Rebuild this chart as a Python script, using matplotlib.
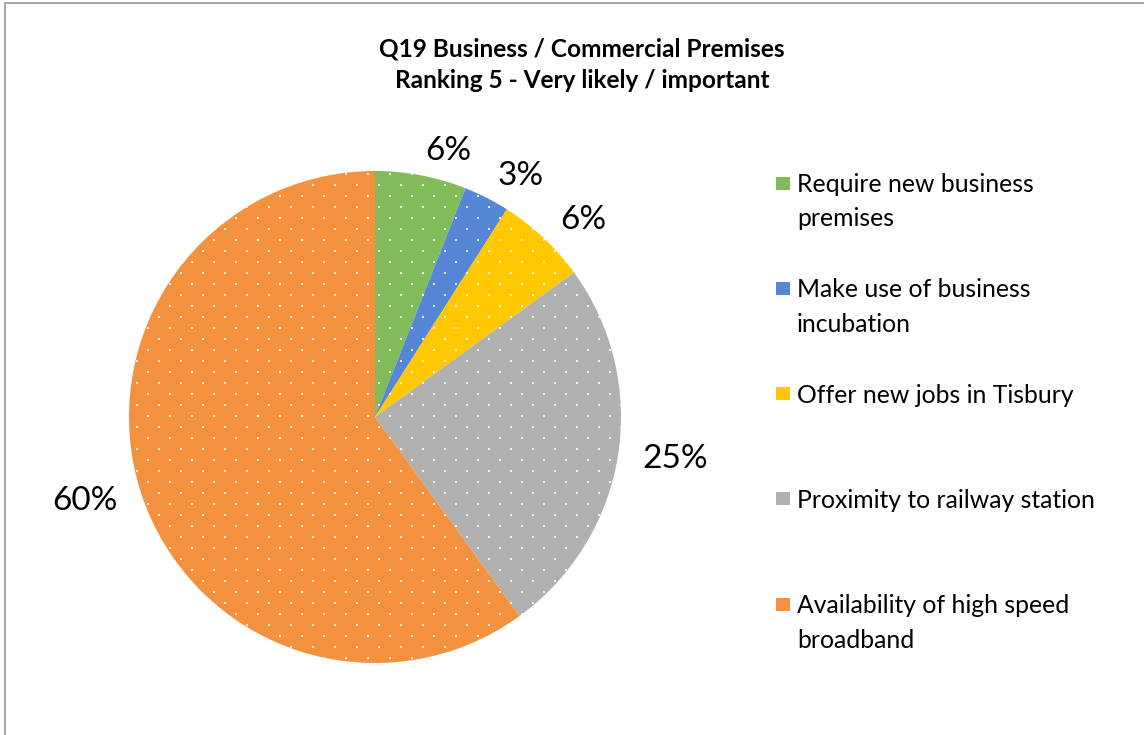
import numpy as np
import matplotlib.pyplot as plt
from matplotlib.patches import Rectangle

plt.rcParams['font.family'] = ['Lato', 'DejaVu Sans']

categories = ['Require new business\npremises',
              'Make use of business\nincubation',
              'Offer new jobs in Tisbury',
              'Proximity to railway station',
              'Availability of high speed\nbroadband']
values = [6, 3, 6, 25, 60]
colors = ['#82BB5A', '#5587D6', '#FFC800', '#B0B0B0', '#F4913F']
title = 'Q19 Business / Commercial Premises\nRanking 5 - Very likely / important'

W, H = 1144, 735
fig = plt.figure(figsize=(W / 100, H / 100), dpi=100)

# light grey frame (only top and left edges fall inside the image)
fig.add_artist(Rectangle((4.5 / W, -0.1), 1.2, 1.1 - 3.5 / H, transform=fig.transFigure,
                         fill=False, edgecolor='#A6A6A6', lw=1.4))

fig.text(582 / W, 1 - 37 / H, title, ha='center', va='top', fontsize=17.6,
         fontweight='bold', linespacing=1.45)

# pie: centre at (375, 417) px from top, radius 246 px
R = 246
half = 300
ax = fig.add_axes([(375 - half) / W, (H - 417 - half) / H, 2 * half / W, 2 * half / H])
wedges, texts = ax.pie(values, colors=colors, startangle=90, counterclock=False,
                       labels=[f'{v}%' for v in values], labeldistance=1.1,
                       textprops=dict(fontsize=24), wedgeprops=dict(linewidth=0))
lim = half / R
ax.set_xlim(-lim, lim)
ax.set_ylim(-lim, lim)
ax.set_axis_off()

# dotted pattern fill: staggered lattice of small white squares (in inches)
gx, gy = [], []
for j, yy in enumerate(np.arange(0.0, H / 100 + 0.11, 0.11)):
    xs = np.arange(0.05 + (0.11 if j % 2 else 0.0), W / 100 + 0.22, 0.22)
    gx.extend(xs)
    gy.extend([yy] * len(xs))


def add_dots(patch):
    sc = ax.scatter(gx, gy, s=3.5, marker='s', c='white', linewidths=0, alpha=0.85,
                    transform=fig.dpi_scale_trans)
    sc.set_clip_path(patch)


for w in wedges:
    add_dots(w)

# legend
for i, (lab, col) in enumerate(zip(categories, colors)):
    yc = 183 + i * 105.3
    box = Rectangle((776 / W, 1 - (yc + 6.5) / H), 14 / W, 13 / H,
                    transform=fig.transFigure, facecolor=col, edgecolor='none')
    fig.add_artist(box)
    add_dots(box)
    fig.text(797 / W, 1 - (yc - 10) / H, lab, ha='left', va='top',
             fontsize=17.8, linespacing=1.6)

fig.savefig('out.png', dpi=100)
